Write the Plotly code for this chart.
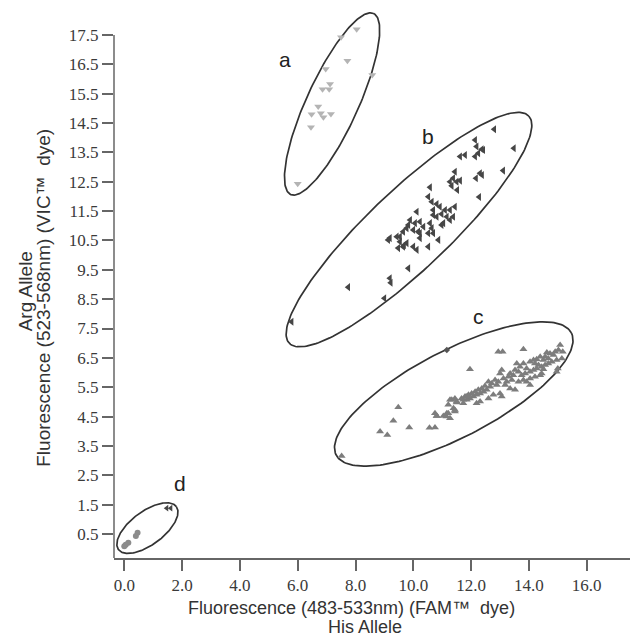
import numpy as np
import plotly.graph_objects as go

# ---------------- data ----------------
# cluster a : light grey, down triangles
a_x = [8.04, 7.50, 7.72, 8.58, 6.97, 7.12, 7.09, 6.86, 6.71, 6.48, 6.89, 7.15, 6.80, 6.46, 6.00]
a_y = [17.70, 17.42, 16.62, 16.14, 16.34, 15.83, 15.65, 15.65, 15.06, 14.80, 14.70, 14.81, 14.83, 14.36, 12.43]

# cluster b : dark grey, left triangles
b_x = [12.80, 13.48, 12.14, 12.19, 12.37, 12.25, 12.14, 12.42, 11.79, 11.62,
       13.11, 12.31, 12.17, 12.38, 11.44, 11.38, 11.27, 11.50, 11.62, 11.33,
       11.52, 12.28, 10.58, 10.52, 10.64, 10.81, 10.92, 11.10, 11.27, 11.44,
       10.98, 11.16, 11.38, 10.81, 10.69, 10.12, 9.89, 10.06, 10.23, 10.35,
       10.00, 10.17, 10.58, 10.52, 9.65, 9.54, 9.19, 9.83, 10.69, 11.27,
       10.98, 10.64, 10.69, 10.23, 9.77, 9.43, 9.13, 9.54, 9.77, 10.00,
       10.52, 9.48, 9.65, 10.12, 9.68, 11.04, 9.83, 9.19, 9.22, 7.75,
       9.00, 5.79, 10.23, 10.87]
b_y = [14.29, 13.64, 13.92, 13.70, 13.61, 13.47, 13.36, 13.58, 13.41, 13.36,
       12.88, 12.79, 12.62, 12.73, 12.84, 12.62, 12.50, 12.50, 12.54, 12.36,
       12.22, 11.98, 12.31, 11.99, 11.82, 11.74, 11.65, 11.54, 11.54, 11.65,
       11.40, 11.31, 11.31, 11.31, 11.54, 11.48, 11.20, 11.09, 11.14, 10.97,
       10.86, 10.80, 11.09, 10.75, 10.80, 10.63, 10.58, 11.03, 11.37, 11.20,
       11.03, 10.92, 10.75, 10.75, 10.92, 10.63, 10.52, 10.46, 10.41, 10.29,
       10.29, 10.24, 10.29, 10.18, 10.34, 11.09, 9.55, 9.21, 9.06, 8.91,
       8.53, 7.73, 10.58, 10.52]

# cluster c : medium grey, up triangles
c_x = [12.94, 13.09, 13.81, 11.96, 15.08, 15.02, 14.91, 14.85, 14.73, 14.62,
       14.56, 14.67, 14.50, 14.39, 14.27, 14.16, 14.04, 14.21, 14.33, 14.44,
       14.56, 14.67, 14.79, 14.96, 15.14, 15.17, 14.96, 15.00, 14.44, 14.50,
       13.58, 13.69, 13.81, 13.92, 13.87, 13.75, 13.64, 13.52, 13.46, 13.35,
       13.29, 13.41, 13.23, 13.18, 13.12, 13.00, 13.06, 12.94, 12.89, 12.83,
       12.71, 12.66, 12.60, 12.54, 12.48, 12.43, 12.37, 12.31, 12.25, 12.19,
       12.14, 12.08, 12.02, 11.96, 11.91, 11.85, 11.79, 11.73, 11.67, 13.35,
       13.81, 14.04, 13.64, 13.52, 13.06, 13.00, 12.77, 12.60, 12.31, 12.19,
       11.73, 11.50, 11.44, 11.27, 11.21, 11.39, 11.16, 11.04, 10.81, 14.04,
       14.16, 14.27, 14.39, 14.21, 13.92, 14.04, 9.48, 9.31, 8.85, 9.10,
       9.86, 10.56, 10.75, 10.75, 10.81, 11.15, 11.21, 11.27, 11.44, 11.33,
       11.44, 11.50, 11.85, 7.52]
c_y = [6.71, 6.71, 6.79, 6.11, 6.94, 6.77, 6.71, 6.60, 6.65, 6.68,
       6.54, 6.48, 6.43, 6.54, 6.45, 6.43, 6.37, 6.31, 6.26, 6.20,
       6.26, 6.31, 6.37, 6.43, 6.48, 6.71, 6.03, 6.14, 5.97, 6.11,
       6.31, 6.20, 6.31, 6.14, 5.97, 5.91, 6.03, 6.09, 5.91, 5.97,
       5.86, 5.75, 5.69, 5.58, 5.80, 5.97, 6.09, 5.69, 5.58, 5.75,
       5.63, 5.52, 5.69, 5.41, 5.54, 5.35, 5.46, 5.29, 5.41, 5.24,
       5.35, 5.18, 5.29, 5.12, 5.24, 5.07, 5.18, 5.07, 5.12, 5.46,
       5.75, 5.80, 5.69, 5.41, 5.18, 5.29, 5.24, 5.12, 5.01, 4.95,
       4.95, 5.01, 4.72, 5.07, 4.90, 4.78, 4.61, 4.52, 4.52, 6.03,
       6.09, 6.14, 5.91, 5.86, 5.69, 5.58, 4.82, 4.36, 3.99, 3.87,
       4.13, 4.12, 4.13, 4.61, 4.52, 4.50, 4.61, 4.44, 4.67, 5.07,
       5.12, 4.98, 5.18, 3.16]

# stray dark point on ellipse c
c_dark_x = [11.16]
c_dark_y = [6.77]

# cluster d : grey circles + two dark left triangles
d_x = [0.14, 0.05, 0.46, 0.40, 0.00]
d_y = [0.20, 0.13, 0.54, 0.43, 0.08]
d_tri_x = [1.47, 1.61]
d_tri_y = [1.38, 1.38]

# cluster ellipses: centre x, centre y, semi-major, semi-minor, angle (deg)
ell_cx = [7.19, 9.85, 11.40, 0.80]
ell_cy = [15.15, 10.87, 5.27, 0.70]
ell_a = [3.40, 5.67, 4.57, 1.24]
ell_b = [0.89, 1.37, 1.48, 0.57]
ell_ang = [65, 43, 27, 36]

# cluster letters
lab_text = ["a", "b", "c", "d"]
lab_x = [5.56, 10.51, 12.25, 1.93]
lab_y = [16.67, 14.05, 7.90, 2.23]

x_ticks = [0, 2, 4, 6, 8, 10, 12, 14, 16]
y_ticks = [0.5 + i for i in range(18)]

x_title = "Fluorescence (483-533nm) (FAM™  dye)"
x_title2 = "His Allele"
y_title = "Fluorescence (523-568nm) (VIC™  dye)"
y_title2 = "Arg Allele"

X_RANGE = [-0.356, 17.74]
Y_RANGE = [-0.318, 18.42]

# ---------------- figure ----------------
fig = go.Figure()

t = np.linspace(0, 2 * np.pi, 200)
for cx, cy, a, b, ang in zip(ell_cx, ell_cy, ell_a, ell_b, ell_ang):
    th = np.deg2rad(ang)
    ex = cx + a * np.cos(t) * np.cos(th) - b * np.sin(t) * np.sin(th)
    ey = cy + a * np.cos(t) * np.sin(th) + b * np.sin(t) * np.cos(th)
    fig.add_trace(go.Scatter(x=ex, y=ey, mode="lines",
                             line=dict(color="#333333", width=1.7),
                             hoverinfo="skip", showlegend=False))

fig.add_trace(go.Scatter(x=a_x, y=a_y, mode="markers",
                         marker=dict(symbol="triangle-down", size=7, color="#b4b4b4"),
                         showlegend=False))
fig.add_trace(go.Scatter(x=c_x, y=c_y, mode="markers",
                         marker=dict(symbol="triangle-up", size=7, color="#7d7d7d"),
                         showlegend=False))
fig.add_trace(go.Scatter(x=b_x, y=b_y, mode="markers",
                         marker=dict(symbol="triangle-left", size=7, color="#464646"),
                         showlegend=False))
fig.add_trace(go.Scatter(x=c_dark_x, y=c_dark_y, mode="markers",
                         marker=dict(symbol="diamond", size=5, color="#555555"),
                         showlegend=False))
fig.add_trace(go.Scatter(x=d_x, y=d_y, mode="markers",
                         marker=dict(symbol="circle", size=6, color="#8c8c8c"),
                         showlegend=False))
fig.add_trace(go.Scatter(x=d_tri_x, y=d_tri_y, mode="markers",
                         marker=dict(symbol="triangle-left", size=6, color="#464646"),
                         showlegend=False))

for txt, lx, ly in zip(lab_text, lab_x, lab_y):
    fig.add_annotation(x=lx, y=ly, text=txt, showarrow=False,
                       font=dict(family="Liberation Sans", size=21, color="#222"))

tickfont = dict(family="Liberation Serif", size=17, color="#3a3a3a")
fig.update_xaxes(range=X_RANGE, tickvals=x_ticks, tickformat=".1f",
                 ticks="outside", ticklen=11, tickwidth=1.5, tickcolor="#666",
                 showline=True, linecolor="#666", linewidth=1.5,
                 showgrid=False, zeroline=False, tickfont=tickfont)
fig.update_yaxes(range=Y_RANGE, tickvals=y_ticks, tickformat=".1f",
                 ticks="outside", ticklen=11, tickwidth=1.5, tickcolor="#666",
                 showline=False, showgrid=False, zeroline=False, tickfont=tickfont)

# y axis line stops at the top tick
fig.add_shape(type="line", xref="paper", yref="y", x0=0, x1=0,
              y0=Y_RANGE[0], y1=y_ticks[-1], line=dict(color="#666", width=1.5))

title_font = dict(family="Liberation Sans", size=19, color="#333")
xtitle_font = dict(family="Liberation Sans", size=18, color="#333")
fig.add_annotation(xref="paper", yref="paper", x=0.455, y=-0.0900, text=x_title,
                   showarrow=False, font=xtitle_font, xanchor="center", yanchor="middle")
fig.add_annotation(xref="paper", yref="paper", x=0.480, y=-0.1475, text=x_title2,
                   showarrow=False, font=xtitle_font, xanchor="center", yanchor="bottom")
fig.add_annotation(xref="paper", yref="paper", x=-0.134, y=0.473, text=y_title,
                   showarrow=False, font=title_font, textangle=-90,
                   xanchor="center", yanchor="middle")
fig.add_annotation(xref="paper", yref="paper", x=-0.170, y=0.485, text=y_title2,
                   showarrow=False, font=title_font, textangle=-90,
                   xanchor="center", yanchor="middle")

fig.update_layout(width=630, height=631, autosize=False,
                  margin=dict(l=106, r=1, t=0, b=81),
                  plot_bgcolor="white", paper_bgcolor="white")

fig.write_html("out.html")
